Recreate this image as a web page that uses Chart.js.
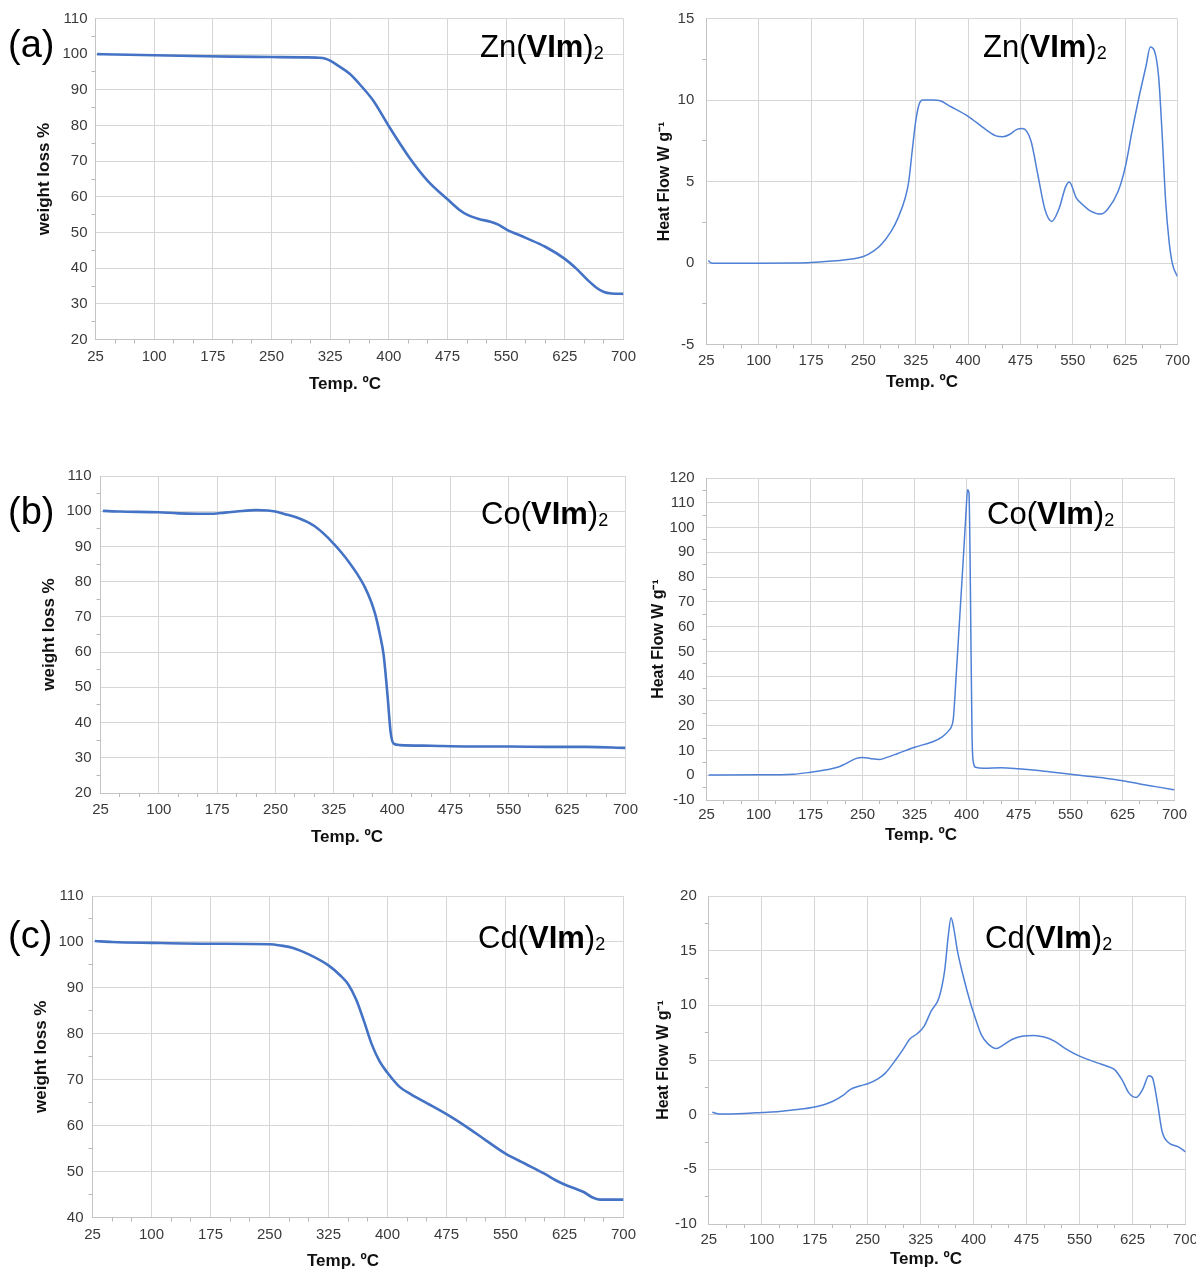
<!DOCTYPE html>
<html>
<head>
<meta charset="utf-8">
<title>TGA / DSC of M(VIm)2</title>
<script src="https://cdn.jsdelivr.net/npm/chart.js@4.4.1/dist/chart.umd.min.js"></script>
<style>
  html, body { margin: 0; padding: 0; background: #fff; }
  #page { position: relative; width: 1196px; height: 1270px; overflow: hidden;
          font-family: "Liberation Sans", Arial, sans-serif; }
  #page canvas { position: absolute; }
  .tag  { position: absolute; font-size: 38px; line-height: 1; color: #000; white-space: nowrap; }
  .cmpd { position: absolute; font-size: 31px; line-height: 1; color: #000; white-space: nowrap; }
  .cmpd b { font-weight: bold; }
  .cmpd sub { font-size: 0.58em; vertical-align: -0.12em; line-height: 0; }
</style>
</head>
<body>
<div id="page"></div>
<script>
// ---- data ---------------------------------------------------------------
const metals = ['Zn', 'Co', 'Cd'];
const panelTags = ['(a)', '(b)', '(c)'];
const xTickValues = [25, 100, 175, 250, 325, 400, 475, 550, 625, 700];
const xAxisTitle = 'Temp. ºC';
const weightTitle = 'weight loss %';
const flowTitle = 'Heat Flow W g⁻¹';

// Zn(VIm)2
const znTgaTemp   = [27, 50, 100, 150, 200, 250, 290, 310, 318, 325, 335, 350, 365, 380, 400, 425, 450, 475, 490, 500, 515, 530, 540, 550, 575, 600, 625, 640, 655, 665, 675, 685, 700];
const znTgaWeight = [100.0, 99.9, 99.7, 99.5, 99.3, 99.2, 99.1, 99.0, 98.8, 98.2, 96.8, 94.5, 91.0, 87.0, 79.8, 71.4, 64.4, 59.3, 56.4, 55.0, 53.8, 53.0, 52.2, 50.9, 48.5, 46.0, 42.6, 39.8, 36.5, 34.6, 33.3, 32.9, 32.8];
const znDscTemp = [28, 32, 50, 100, 150, 175, 200, 225, 250, 265, 275, 290, 300, 310, 315, 320, 325, 330, 335, 350, 360, 375, 400, 425, 440, 450, 460, 470, 478, 490, 500, 510, 520, 530, 540, 545, 555, 565, 575, 590, 600, 615, 625, 635, 645, 655, 661, 667, 673, 678, 683, 688, 693, 700];
const znDscFlow = [0.15, 0.0, -0.02, -0.02, 0.0, 0.03, 0.1, 0.2, 0.4, 0.75, 1.1, 1.95, 2.8, 4.0, 5.0, 6.9, 8.7, 9.75, 10.0, 10.0, 9.95, 9.6, 9.0, 8.2, 7.8, 7.75, 7.9, 8.2, 8.25, 7.5, 5.4, 3.3, 2.55, 3.3, 4.7, 4.97, 4.0, 3.55, 3.2, 3.0, 3.3, 4.4, 5.85, 8.1, 10.2, 12.1, 13.25, 13.0, 11.4, 7.9, 3.8, 1.3, -0.1, -0.83];

// Co(VIm)2
const coTgaTemp   = [28, 50, 100, 125, 150, 170, 185, 200, 225, 240, 250, 265, 280, 300, 315, 325, 335, 345, 355, 365, 373, 378, 381, 384, 389, 394, 398, 402, 410, 450, 500, 550, 600, 650, 700];
const coTgaWeight = [100.1, 99.9, 99.7, 99.4, 99.3, 99.3, 99.6, 99.9, 100.3, 100.2, 99.9, 99.0, 98.0, 95.8, 93.0, 90.7, 88.2, 85.4, 82.2, 78.4, 74.3, 70.9, 68.3, 65.2, 59.2, 47.8, 37.3, 34.0, 33.6, 33.4, 33.2, 33.2, 33.1, 33.1, 32.8];
const coDscTemp = [28, 100, 150, 175, 200, 215, 225, 240, 250, 262, 275, 285, 300, 325, 350, 365, 375, 378, 381, 385, 390, 395, 399, 401.5, 403.5, 405, 406.5, 408, 410, 413, 425, 450, 475, 500, 525, 550, 575, 600, 625, 650, 675, 700];
const coDscFlow = [0.1, 0.15, 0.4, 1.2, 2.3, 3.3, 4.6, 6.7, 7.2, 6.7, 6.4, 7.2, 8.7, 11.3, 13.4, 15.5, 18.2, 19.5, 23, 40, 63, 86, 105, 115.3, 114, 90, 50, 15, 5, 3.2, 2.8, 3.0, 2.6, 2.0, 1.2, 0.4, -0.4, -1.2, -2.2, -3.5, -4.7, -5.9];

// Cd(VIm)2
const cdTgaTemp   = [28, 50, 100, 175, 250, 265, 280, 300, 325, 340, 350, 360, 370, 380, 390, 400, 415, 430, 450, 475, 500, 525, 550, 575, 600, 615, 625, 640, 650, 660, 670, 700];
const cdTgaWeight = [100.2, 100.0, 99.8, 99.6, 99.5, 99.2, 98.7, 97.3, 94.9, 92.7, 90.8, 87.5, 82.8, 77.7, 74.0, 71.5, 68.5, 66.8, 64.9, 62.5, 59.8, 56.8, 53.9, 51.7, 49.5, 48.0, 47.2, 46.2, 45.5, 44.4, 43.9, 43.9];
const cdDscTemp = [30, 40, 75, 100, 125, 150, 175, 190, 200, 215, 225, 240, 250, 265, 275, 290, 300, 310, 320, 330, 340, 351, 359, 364, 368, 372, 377, 384, 396, 400, 411, 420, 432, 440, 455, 470, 485, 500, 515, 530, 550, 575, 590, 600, 610, 620, 630, 640, 648, 653, 660, 667, 675, 690, 700];
const cdDscFlow = [0.22, 0.05, 0.1, 0.2, 0.3, 0.47, 0.71, 0.96, 1.2, 1.76, 2.3, 2.65, 2.83, 3.3, 3.8, 5.04, 5.97, 6.95, 7.4, 8.1, 9.5, 10.7, 13.2, 16.3, 18.0, 17.0, 15.0, 13.0, 10.1, 9.3, 7.3, 6.5, 6.05, 6.3, 6.9, 7.2, 7.25, 7.1, 6.7, 6.05, 5.35, 4.74, 4.4, 4.1, 3.2, 1.97, 1.57, 2.4, 3.57, 3.4, 1.2, -1.57, -2.5, -2.95, -3.4];

// ---- styling and geometry --------------------------------------------------
const FONT = '"Liberation Sans", Arial, sans-serif';
const GRID = '#d6d6d6';
const AXIS = '#c4c4c4';
const MINOR = '#b8b8b8';
const LABEL = '#3a3a3a';
const TICK_LEN = 4;
const EDGE = 26;   // room above / right of each plot for overhanging tick labels

// plot rectangles (l, r, t, b), axis-title positions and label offsets of the six panels
const frames = [
  { plot: { l: 95.5, r: 623.5, t: 18.5, b: 339.5 },  yTitleX: 44,  xTitleX: 345, xTitleY: 384,  xLabelY: 357,  yGap: 8 },
  { plot: { l: 706.3, r: 1177.5, t: 18.5, b: 344.5 }, yTitleX: 665, xTitleX: 922, xTitleY: 382,  xLabelY: 361,  yGap: 12 },
  { plot: { l: 100.5, r: 625.5, t: 476, b: 793 },     yTitleX: 49,  xTitleX: 347, xTitleY: 837,  xLabelY: 810,  yGap: 9 },
  { plot: { l: 706.6, r: 1174.5, t: 478, b: 800 },    yTitleX: 659, xTitleX: 921, xTitleY: 835,  xLabelY: 815,  yGap: 12 },
  { plot: { l: 92.5, r: 623.5, t: 896, b: 1217.5 },   yTitleX: 41,  xTitleX: 343, xTitleY: 1261, xLabelY: 1235, yGap: 9 },
  { plot: { l: 708.8, r: 1185.5, t: 896, b: 1224 },   yTitleX: 664, xTitleX: 926, xTitleY: 1259, xLabelY: 1240, yGap: 12 }
];

const page = document.getElementById('page');

function near(v, list) { return list.some(t => Math.abs(t - v) < 1e-6); }
function range(a, b, s) { const out = []; for (let v = a; v <= b + 1e-9; v += s) out.push(Math.round(v * 100) / 100); return out; }

// draws the temperature caption under the x axis at a set page position
const xCaption = {
  id: 'xCaption',
  afterDraw(chart, args, opts) {
    const ctx = chart.ctx;
    ctx.save();
    ctx.font = 'bold 17px ' + FONT;
    ctx.fillStyle = '#111';
    ctx.textAlign = 'center';
    ctx.textBaseline = 'middle';
    ctx.fillText(opts.text, opts.x, opts.y);
    ctx.restore();
  }
};

function drawPanel(frame, temps, values, y) {
  const yTitleSize = y.tga ? 17 : 16;
  const L = Math.round(frame.yTitleX - yTitleSize * 0.6);
  const T = Math.round(frame.plot.t - EDGE);
  const R = Math.round(frame.plot.r + EDGE);
  const B = Math.round(frame.xTitleY + 17 * 0.6);
  const canvas = document.createElement('canvas');
  canvas.width = R - L; canvas.height = B - T;
  canvas.style.left = L + 'px'; canvas.style.top = T + 'px';
  canvas.style.width = (R - L) + 'px'; canvas.style.height = (B - T) + 'px';
  page.appendChild(canvas);

  const yWidth = frame.plot.l - L;
  const xHeight = B - frame.plot.b;
  const majorY = y.major;

  new Chart(canvas, {
    type: 'line',
    data: {
      datasets: [{
        data: temps.map((t, i) => ({ x: t, y: values[i] })),
        borderColor: y.tga ? '#4472c4' : '#4f80d6',
        borderWidth: y.tga ? 2.6 : 1.5,
        pointRadius: 0,
        fill: false,
        cubicInterpolationMode: 'monotone'
      }]
    },
    plugins: [xCaption],
    options: {
      responsive: false,
      animation: false,
      devicePixelRatio: 1,
      events: [],
      layout: { padding: { left: 0, top: frame.plot.t - T, right: R - frame.plot.r, bottom: 0 } },
      plugins: {
        legend: { display: false },
        tooltip: { enabled: false },
        xCaption: { text: xAxisTitle, x: frame.xTitleX - L, y: frame.xTitleY - T }
      },
      scales: {
        x: {
          type: 'linear', min: 25, max: 700,
          afterFit: s => { s.height = xHeight; },
          ticks: {
            stepSize: 25, autoSkip: false, maxRotation: 0,
            padding: frame.xLabelY - frame.plot.b - TICK_LEN - 9,
            color: LABEL, font: { family: FONT, size: 15 },
            callback: v => near(v, xTickValues) ? String(v) : ''
          },
          grid: {
            color: c => (c.tick && near(c.tick.value, xTickValues)) ? GRID : 'rgba(0,0,0,0)',
            tickColor: c => (c.tick && near(c.tick.value, xTickValues)) ? 'rgba(0,0,0,0)' : MINOR,
            tickLength: TICK_LEN, lineWidth: 1
          },
          border: { color: AXIS, width: 1 },
          title: { display: false }
        },
        y: {
          type: 'linear', min: y.min, max: y.max,
          afterFit: s => { s.width = yWidth; },
          ticks: {
            stepSize: y.minor, autoSkip: false,
            padding: frame.yGap - TICK_LEN,
            color: LABEL, font: { family: FONT, size: 15 },
            callback: v => near(v, majorY) ? String(v) : ''
          },
          grid: {
            color: c => (c.tick && near(c.tick.value, majorY)) ? GRID : 'rgba(0,0,0,0)',
            tickColor: c => (c.tick && near(c.tick.value, majorY)) ? 'rgba(0,0,0,0)' : MINOR,
            tickLength: TICK_LEN, lineWidth: 1
          },
          border: { color: AXIS, width: 1 },
          title: { display: true, text: y.title, color: '#111', padding: 0,
                   font: { family: FONT, size: yTitleSize, weight: 'bold' } }
        }
      }
    }
  });
}

drawPanel(frames[0], znTgaTemp, znTgaWeight, { tga: true, min: 20, max: 110, minor: 5, major: range(20, 110, 10), title: weightTitle });
drawPanel(frames[1], znDscTemp, znDscFlow, { tga: false, min: -5, max: 15, minor: 2.5, major: range(-5, 15, 5), title: flowTitle });
drawPanel(frames[2], coTgaTemp, coTgaWeight, { tga: true, min: 20, max: 110, minor: 5, major: range(20, 110, 10), title: weightTitle });
drawPanel(frames[3], coDscTemp, coDscFlow, { tga: false, min: -10, max: 120, minor: 5, major: range(-10, 120, 10), title: flowTitle });
drawPanel(frames[4], cdTgaTemp, cdTgaWeight, { tga: true, min: 40, max: 110, minor: 5, major: range(40, 110, 10), title: weightTitle });
drawPanel(frames[5], cdDscTemp, cdDscFlow, { tga: false, min: -10, max: 20, minor: 2.5, major: range(-10, 20, 5), title: flowTitle });

// ---- panel letters and compound names -------------------------------------
const rowBaselines = [57, 524, 948];
const tagLeft = [8, 8, 8];
const nameLeft = [[480, 983], [481, 987], [478, 985]];

rowBaselines.forEach((base, row) => {
  const tag = document.createElement('div');
  tag.className = 'tag';
  tag.textContent = panelTags[row];
  tag.style.left = tagLeft[row] + 'px';
  tag.style.top = (base - 0.8465 * 38) + 'px';
  page.appendChild(tag);

  nameLeft[row].forEach(left => {
    const name = document.createElement('div');
    name.className = 'cmpd';
    name.innerHTML = metals[row] + '(<b>VIm</b>)<sub>2</sub>';
    name.style.left = left + 'px';
    name.style.top = (base - 0.8465 * 31) + 'px';
    page.appendChild(name);
  });
});
</script>
</body>
</html>
